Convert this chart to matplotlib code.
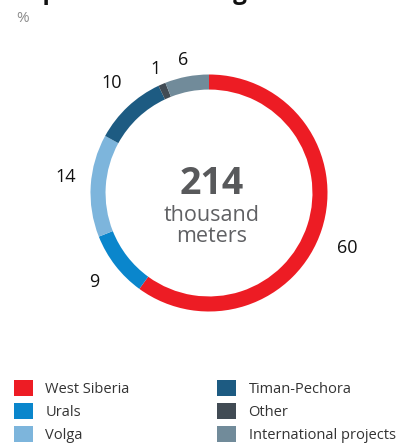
import matplotlib
matplotlib.use("Agg")
import matplotlib.pyplot as plt
from matplotlib.patches import Patch

plt.rcParams['font.family'] = ['Open Sans', 'DejaVu Sans']

regions = ["West Siberia", "Urals", "Volga", "Timan-Pechora", "Other", "International projects"]
shares = [60, 9, 14, 10, 1, 6]
colors = ["#ed1c24", "#0a86cc", "#7db5dc", "#1d5b82", "#414b54", "#718b9a"]
total_value = "214"
total_unit = "thousand\nmeters"

W, H = 402, 444
fig = plt.figure(figsize=(W / 100, H / 100), dpi=100)

# title is cut off at the top in the reference, only descenders show
fig.text(15 / W, 1 + 1.5 / H, "Exploration drilling", fontsize=17.5, fontweight="bold",
         color="#111111", va="baseline", ha="left")
fig.text(16 / W, 1 - 18 / H, "%", fontsize=11, color="#8c8c8c", va="center", ha="left")

cx, cy, r = 209, 193, 118.5
ax = fig.add_axes([(cx - r) / W, (H - cy - r) / H, 2 * r / W, 2 * r / H])
wedges, texts = ax.pie(shares, colors=colors, startangle=90, counterclock=False,
                       radius=1, wedgeprops=dict(width=0.127, edgecolor="none"),
                       labels=[str(s) for s in shares], labeldistance=1.23,
                       textprops=dict(fontsize=13, color="#111111", fontweight="medium"))
for t, s in zip(texts, shares):
    t.set_ha("center")
    t.set_va("center")
    x, y = t.get_position()
    if s < 8:
        t.set_position((x * 0.93, y * 0.93))
    elif s > 50:
        t.set_position((x, y - 0.08))
    elif s == 14:
        t.set_position((x + 0.02, y + 0.06))
    elif s == 10:
        t.set_position((x + 0.02, y + 0.03))
ax.set_xlim(-1, 1)
ax.set_ylim(-1, 1)
ax.set_aspect("equal")
ax.axis("off")

ax.text(0.02, 0.08, total_value, ha="center", va="center", fontsize=27, fontweight="bold",
        color="#58595b")
ax.text(0.02, -0.28, total_unit, ha="center", va="center", fontsize=15.5, color="#606164",
        linespacing=1.0)

handles = [Patch(facecolor=c, edgecolor="none") for c in colors]
fig.legend(handles, regions, ncol=2, loc="upper left", bbox_to_anchor=(14 / W, 1 - 380 / H),
           frameon=False, fontsize=10.5, handlelength=1.3, handleheight=1.3,
           handletextpad=0.85, columnspacing=6.0, labelspacing=0.42, borderpad=0,
           borderaxespad=0, labelcolor="#333333")

fig.savefig("out.png", dpi=100)
